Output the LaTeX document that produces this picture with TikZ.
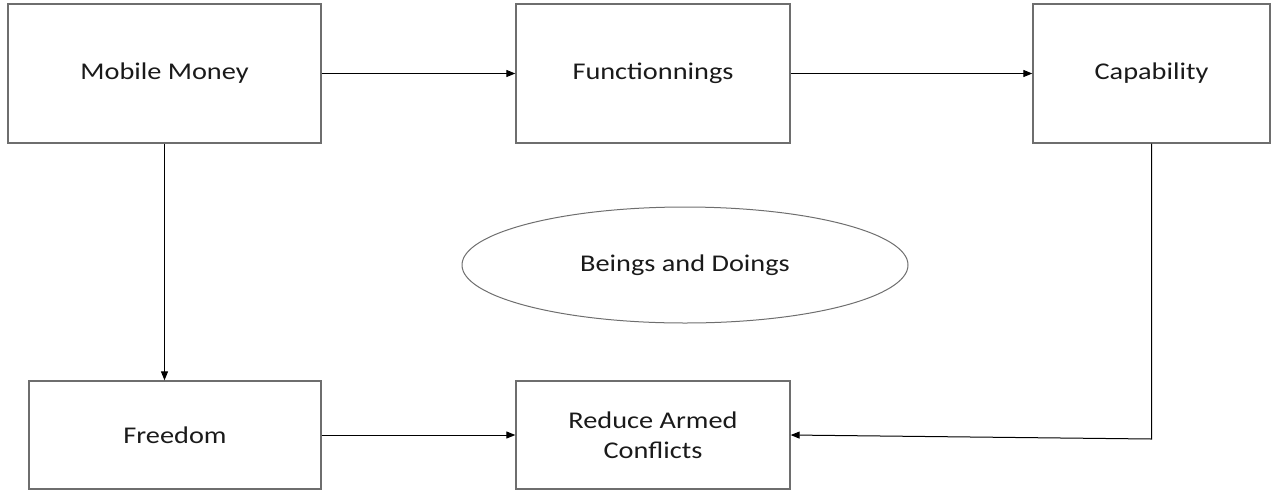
\documentclass[tikz,border=0pt]{standalone}
\usepackage{fontspec}
\setmainfont{Carlito}[FakeStretch=1.18]
\usetikzlibrary{arrows.meta,shapes.geometric}
\definecolor{boxline}{HTML}{6E6E6E}
\definecolor{txt}{HTML}{1A1A1A}
\tikzset{
  box/.style={draw=boxline, line width=1.3pt, rectangle, inner sep=0pt, text=txt,
    font=\fontsize{24}{30}\selectfont, align=center},
  oval/.style={draw=boxline, line width=1pt, ellipse, inner sep=0pt, text=txt,
    font=\fontsize{24}{30}\selectfont},
  conn/.style={draw=black, line width=1pt, -{Triangle[length=9pt,width=7pt]}},
}
\begin{document}
\begin{tikzpicture}[x=1pt,y=-1pt]
\useasboundingbox (0,0) rectangle (1277,491);
\node[box, minimum width=313pt, minimum height=139pt] (mm) at (164.5,73.5) {Mobile Money};
\node[box, minimum width=274pt, minimum height=139pt] (fun) at (653,73.5) {Functionnings};
\node[box, minimum width=237pt, minimum height=139pt] (cap) at (1151.5,73.5) {Capability};
\node[box, minimum width=292pt, minimum height=108pt] (fr) at (175,435) {Freedom};
\node[box, minimum width=274pt, minimum height=108pt] (rac) at (653,435) {Reduce Armed\\Conflicts};
\node[oval, minimum width=446pt, minimum height=116pt] (bd) at (685,265) {Beings and Doings};
\coordinate (bend) at (1151.5,439);
\draw[conn] (mm.east) -- (fun.west);
\draw[conn] (fun.east) -- (cap.west);
\draw[conn] (mm.south) -- (mm.south |- fr.north);
\draw[conn] (fr.east) -- (rac.west);
\draw[conn] (cap.south) -- (bend) -- (rac.east);
\end{tikzpicture}
\end{document}
